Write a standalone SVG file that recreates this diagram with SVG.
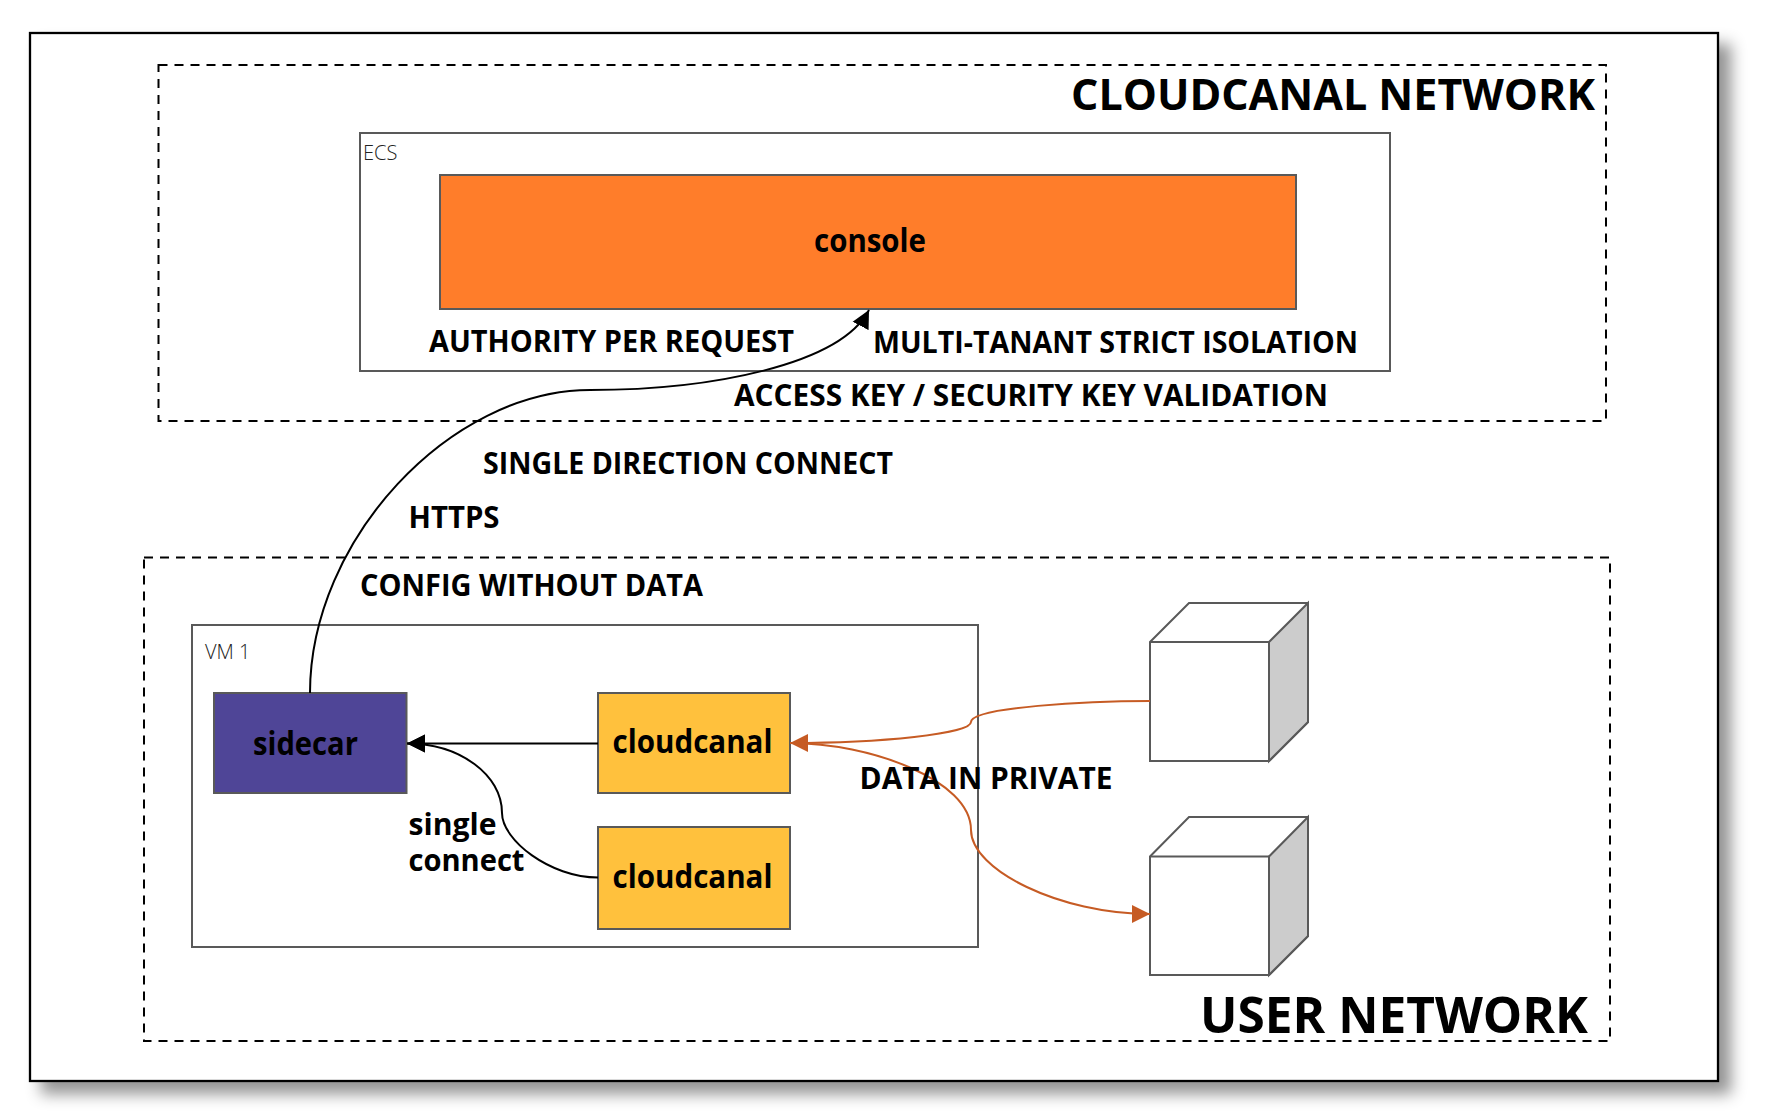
<svg xmlns="http://www.w3.org/2000/svg" width="1768" height="1114" viewBox="0 0 1768 1114">
<defs>
<style>
text{font-family:"Open Sans","Noto Sans",sans-serif;fill:#000}
.b{font-weight:700}
.s{font-size:30.500px}
.n{font-size:33px}
.l{font-weight:300;font-size:20px;fill:#222}
.box{stroke:#595959;stroke-width:2;fill:#fff}
.dash{fill:none;stroke:#000;stroke-width:2;stroke-dasharray:9 7}
.k{fill:none;stroke:#000;stroke-width:2}
.o{fill:none;stroke:#c65b24;stroke-width:2}
</style>
<filter id="sh" x="-5%" y="-5%" width="112%" height="115%"><feDropShadow dx="12" dy="12" stdDeviation="7.500" flood-color="#000" flood-opacity="0.42"/></filter>
<marker id="ak" markerUnits="userSpaceOnUse" markerWidth="20" markerHeight="20" refX="18" refY="10" orient="auto"><path d="M0 1L18 10L0 19z" fill="#000"/></marker>
<marker id="ao" markerUnits="userSpaceOnUse" markerWidth="20" markerHeight="20" refX="18" refY="10" orient="auto"><path d="M0 1L18 10L0 19z" fill="#c65b24"/></marker>
</defs>
<rect width="1768" height="1114" fill="#fff"/>
<g id="frame"><rect x="30" y="33" width="1688" height="1048" fill="#fff" stroke="#000" stroke-width="2.300" filter="url(#sh)"/></g>
<g id="cloudcanal-network"><rect class="dash" x="158.500" y="65" width="1447.500" height="356"/><text class="b" x="1071" y="110" font-size="43" textLength="524" lengthAdjust="spacingAndGlyphs">CLOUDCANAL NETWORK</text></g>
<g id="user-network"><rect class="dash" x="144" y="557.500" width="1466" height="483.500"/><text class="b" x="1200" y="1033" font-size="50" textLength="388" lengthAdjust="spacingAndGlyphs">USER NETWORK</text></g>
<g id="ecs"><rect class="box" x="360" y="133" width="1030" height="238"/><text class="l" x="363" y="160">ECS</text></g>
<g id="vm1"><rect class="box" x="192" y="625" width="786" height="322"/><text class="l" x="205" y="659">VM 1</text></g>
<g id="console"><rect class="box" x="440" y="175" width="856" height="134" style="fill:#ff7d2a"/><text class="b n" x="870" y="252" text-anchor="middle" textLength="112" lengthAdjust="spacingAndGlyphs">console</text></g>
<g id="sidecar"><rect class="box" x="214" y="693" width="192.500" height="100" style="fill:#4f4597"/><text class="b n" x="305.500" y="755" text-anchor="middle" textLength="105" lengthAdjust="spacingAndGlyphs">sidecar</text></g>
<g id="cloudcanal-1"><rect class="box" x="598" y="693" width="192" height="100" style="fill:#ffc13d"/><text class="b n" x="692.500" y="753" text-anchor="middle" textLength="160" lengthAdjust="spacingAndGlyphs">cloudcanal</text></g>
<g id="cloudcanal-2"><rect class="box" x="598" y="827" width="192" height="102" style="fill:#ffc13d"/><text class="b n" x="692.500" y="888" text-anchor="middle" textLength="160" lengthAdjust="spacingAndGlyphs">cloudcanal</text></g>
<g id="host-1"><path class="box" d="M1150 642L1189 603H1308V722L1269 761H1150Z"/><path class="box" d="M1269 642L1308 603V722L1269 761Z" style="fill:#ccc"/><path class="box" d="M1150 642H1269"/></g>
<g id="host-2"><path class="box" d="M1150 856.500L1189 817H1308V936L1269 975H1150Z"/><path class="box" d="M1269 856.500L1308 817V936L1269 975Z" style="fill:#ccc"/><path class="box" d="M1150 856.500H1269"/></g>
<g id="connectors">
<path class="k" marker-end="url(#ak)" d="M310 693C310 540 450 390 590 390C710 390 840 365 869 310"/>
<path class="k" marker-end="url(#ak)" d="M598 743.500H407"/>
<path class="k" marker-end="url(#ak)" d="M598 877.500C550 877.500 502 840 502 813C502 775 460 743.500 407 743.500"/>
<path class="o" marker-end="url(#ao)" d="M1150 701C1090 701 971 707 971 722C971 734 880 743 790 743"/>
<path class="o" marker-end="url(#ao)" d="M790 743C870 743 971 780 971 830C971 870 1060 914 1150 914"/>
</g>
<g id="labels">
<text class="b s" x="429" y="352" textLength="365" lengthAdjust="spacingAndGlyphs">AUTHORITY PER REQUEST</text>
<text class="b s" x="873" y="353" textLength="485" lengthAdjust="spacingAndGlyphs">MULTI-TANANT STRICT ISOLATION</text>
<text class="b s" x="734" y="406" textLength="594" lengthAdjust="spacingAndGlyphs">ACCESS KEY / SECURITY KEY VALIDATION</text>
<text class="b s" x="483" y="474" textLength="410" lengthAdjust="spacingAndGlyphs">SINGLE DIRECTION CONNECT</text>
<text class="b s" x="408.500" y="528" textLength="91" lengthAdjust="spacingAndGlyphs">HTTPS</text>
<text class="b s" x="360" y="596" textLength="343" lengthAdjust="spacingAndGlyphs">CONFIG WITHOUT DATA</text>
<text class="b s" x="408.500" y="835"><tspan textLength="88" lengthAdjust="spacingAndGlyphs">single</tspan><tspan x="408.500" dy="36" textLength="116" lengthAdjust="spacingAndGlyphs">connect</tspan></text>
<text class="b s" x="859.500" y="789" textLength="253" lengthAdjust="spacingAndGlyphs">DATA IN PRIVATE</text>
</g>
</svg>
